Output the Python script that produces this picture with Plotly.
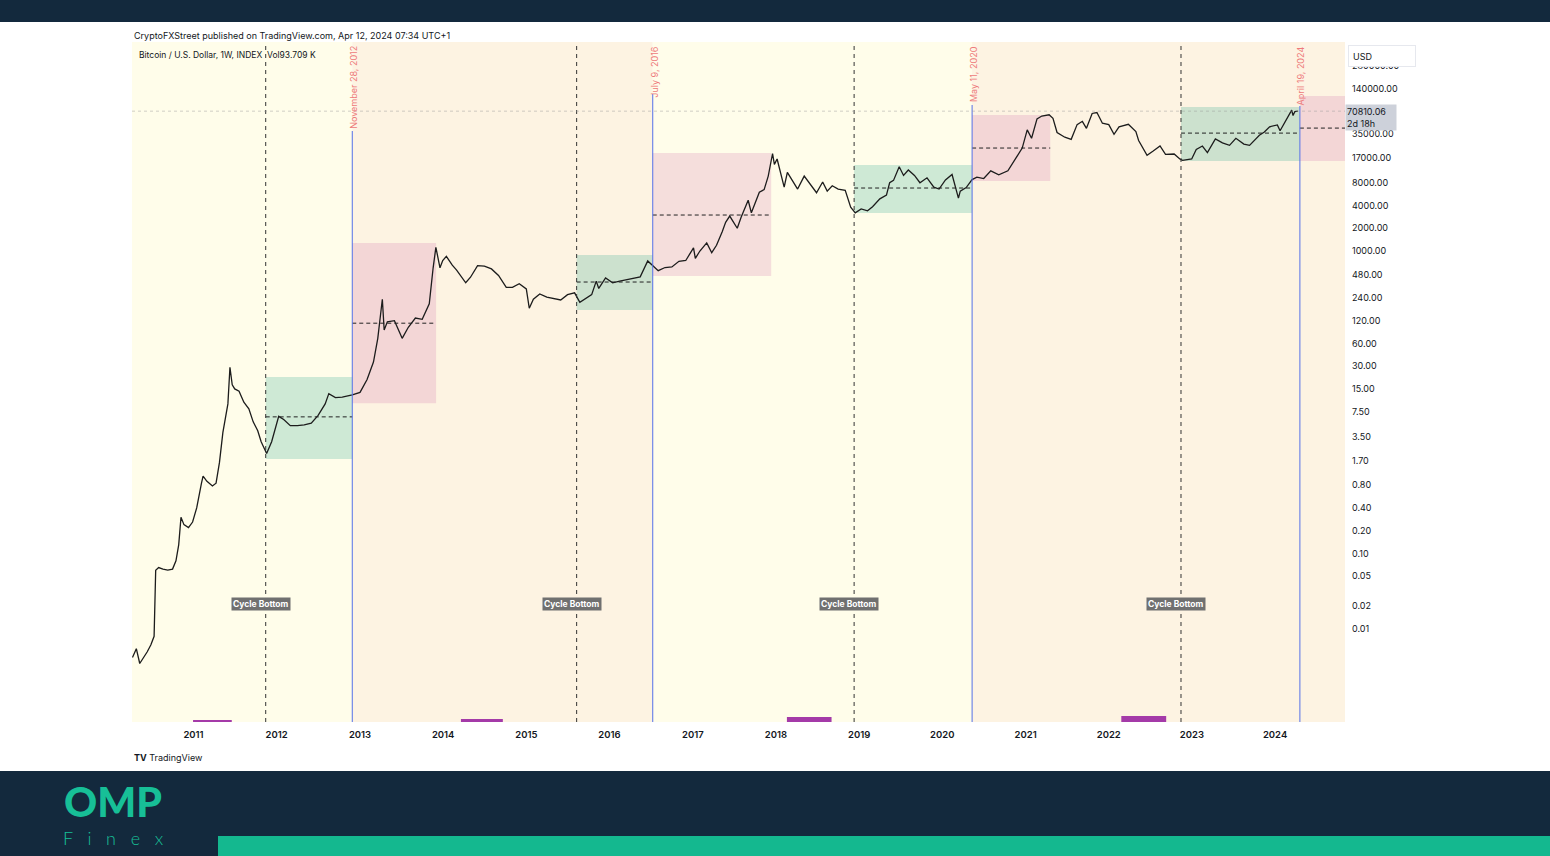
import math
import plotly.graph_objects as go

# weekly BTC/USD path (approximate)
dates = [
    "2010-04-08", "2010-04-25", "2010-05-10", "2010-05-28", "2010-06-12", "2010-06-28", "2010-07-12",
    "2010-07-19", "2010-08-01", "2010-08-20", "2010-09-10", "2010-10-01", "2010-10-16", "2010-10-28",
    "2010-11-07", "2010-11-20", "2010-12-10", "2010-12-28", "2011-01-15", "2011-02-05", "2011-02-12",
    "2011-03-01", "2011-03-25", "2011-04-10", "2011-04-25", "2011-05-10", "2011-05-25", "2011-06-01",
    "2011-06-10", "2011-06-20", "2011-07-01", "2011-07-20", "2011-08-10", "2011-09-01", "2011-09-20",
    "2011-10-10", "2011-10-25", "2011-11-18", "2011-12-10", "2012-01-10", "2012-02-01", "2012-03-01",
    "2012-04-01", "2012-05-01", "2012-06-01", "2012-07-01", "2012-08-01", "2012-08-17", "2012-09-15",
    "2012-10-15", "2012-11-28", "2013-01-01", "2013-02-01", "2013-03-01", "2013-03-20", "2013-04-09",
    "2013-04-17", "2013-05-01", "2013-06-01", "2013-07-05", "2013-08-01", "2013-09-01", "2013-10-01",
    "2013-11-01", "2013-11-18", "2013-11-30", "2013-12-18", "2013-12-30", "2014-01-15", "2014-02-10",
    "2014-03-01", "2014-04-10", "2014-05-01", "2014-06-01", "2014-07-01", "2014-08-01", "2014-09-01",
    "2014-10-05", "2014-11-01", "2014-12-01", "2015-01-01", "2015-01-14", "2015-02-01", "2015-03-01",
    "2015-04-01", "2015-05-01", "2015-06-01", "2015-07-01", "2015-08-01", "2015-08-24", "2015-09-15",
    "2015-10-15", "2015-11-04", "2015-11-15", "2015-12-15", "2016-01-15", "2016-02-15", "2016-03-15",
    "2016-04-15", "2016-05-15", "2016-06-17", "2016-07-09", "2016-08-02", "2016-09-01", "2016-10-01",
    "2016-11-01", "2016-12-01", "2017-01-04", "2017-01-12", "2017-02-01", "2017-03-03", "2017-03-25",
    "2017-04-15", "2017-05-10", "2017-05-25", "2017-06-12", "2017-07-15", "2017-08-01", "2017-09-01",
    "2017-09-15", "2017-10-01", "2017-10-20", "2017-11-10", "2017-11-28", "2017-12-17", "2017-12-25",
    "2018-01-06", "2018-01-20", "2018-02-06", "2018-02-20", "2018-03-10", "2018-04-06", "2018-05-05",
    "2018-06-01", "2018-06-28", "2018-07-25", "2018-08-14", "2018-09-05", "2018-10-01", "2018-11-01",
    "2018-11-25", "2018-12-15", "2019-01-10", "2019-02-07", "2019-03-01", "2019-04-02", "2019-05-01",
    "2019-05-15", "2019-06-01", "2019-06-26", "2019-07-15", "2019-08-05", "2019-09-01", "2019-09-25",
    "2019-10-26", "2019-11-25", "2019-12-18", "2020-01-15", "2020-02-13", "2020-03-12", "2020-03-20",
    "2020-04-15", "2020-05-11", "2020-06-01", "2020-07-01", "2020-08-01", "2020-09-05", "2020-10-15",
    "2020-11-15", "2020-12-17", "2021-01-08", "2021-01-27", "2021-02-20", "2021-03-13", "2021-04-14",
    "2021-05-01", "2021-05-19", "2021-06-22", "2021-07-20", "2021-08-15", "2021-09-07", "2021-09-25",
    "2021-10-20", "2021-11-10", "2021-12-04", "2022-01-01", "2022-01-24", "2022-02-15", "2022-03-28",
    "2022-04-30", "2022-05-12", "2022-06-18", "2022-07-15", "2022-08-14", "2022-09-07", "2022-10-15",
    "2022-11-09", "2022-11-21", "2022-12-31", "2023-01-20", "2023-02-16", "2023-03-10", "2023-04-14",
    "2023-05-15", "2023-06-15", "2023-07-13", "2023-08-17", "2023-09-11", "2023-10-24", "2023-11-15",
    "2023-12-08", "2024-01-11", "2024-01-23", "2024-02-15", "2024-03-05", "2024-03-14", "2024-03-20",
    "2024-03-28", "2024-04-10",
]
prices = [
    0.0042, 0.0055, 0.0035, 0.0042, 0.0050, 0.0062, 0.0080,
    0.060, 0.065, 0.062, 0.060, 0.062, 0.080, 0.13,
    0.30, 0.24, 0.22, 0.26, 0.40, 0.85, 1.05,
    0.90, 0.78, 0.85, 1.6, 4.0, 8.0, 9.5,
    29, 17, 15, 14, 10, 8.2, 5.5,
    4.2, 3.0, 2.1, 3.0, 6.5, 5.9, 4.9,
    4.9, 5.0, 5.3, 6.7, 9.5, 13, 11.5,
    11.7, 12.5, 13.5, 20, 34, 70, 230,
    90, 116, 120, 70, 98, 130, 125,
    200, 600, 1120, 600, 750, 850, 650,
    560, 380, 450, 640, 630, 580, 475,
    330, 330, 370, 315, 175, 230, 270,
    245, 235, 225, 265, 280, 210, 230,
    265, 400, 320, 440, 380, 400, 415,
    430, 455, 740, 650, 550, 605, 615,
    730, 750, 1100, 800, 1000, 1280, 950,
    1190, 1800, 2400, 2900, 2000, 2800, 4700,
    3200, 4400, 6000, 6500, 9800, 19500, 14000,
    16500, 11500, 7000, 11000, 9000, 6600, 9800,
    7500, 5900, 8200, 6200, 7300, 6600, 6350,
    3800, 3200, 3600, 3400, 3850, 4900, 5500,
    8000, 8600, 13000, 10000, 11800, 10000, 8000,
    9300, 7000, 6600, 8700, 10300, 5000, 6200,
    6900, 8800, 9500, 9100, 11500, 10200, 11500,
    16000, 23000, 40000, 31000, 56000, 61000, 63500,
    57000, 37000, 32000, 30000, 47000, 52000, 42000,
    66000, 68000, 49000, 47000, 35000, 44000, 47500,
    38000, 29000, 18500, 21000, 24500, 19000, 19200,
    16500, 15800, 16500, 22000, 24500, 20000, 30500,
    27000, 25000, 31000, 26000, 25000, 34000, 37500,
    44000, 46500, 39000, 52000, 67000, 73000, 62000,
    70000, 70810.06,
]

# halvings and cycle bottoms
halving_dates = ["2012-11-28", "2016-07-09", "2020-05-11", "2024-04-19"]
halving_labels = ["November 28, 2012", "July 9, 2016", "May 11, 2020", "April 19, 2024"]
bottom_dates = ["2011-11-14", "2015-08-10", "2018-12-10", "2022-11-14"]

# green (accumulation) and pink (post-halving) boxes
box_start = ["2011-11-14", "2012-11-28", "2015-08-10", "2016-07-09",
             "2018-12-10", "2020-05-11", "2022-11-14", "2024-04-19"]
box_end = ["2012-11-28", "2013-12-01", "2016-07-09", "2017-12-11",
           "2020-05-11", "2021-04-19", "2024-04-19", "2024-11-03"]
box_low = [1.77, 9.7, 166, 467, 3183, 8430, 15500, 15500]
box_high = [21.5, 1276, 885, 19770, 13720, 63000, 80300, 112000]
box_mid = [6.4, 111, 389, 2994, 6815, 23030, 36300, 42300]
box_kind = ["green", "pink", "green", "pink", "green", "pink", "green", "pink"]

# hidden purple labels peeking at the bottom
purple_start = ["2010-12-30", "2014-03-20", "2018-02-18", "2022-02-25"]
purple_end = ["2011-06-18", "2014-09-20", "2018-09-02", "2022-09-10"]

y_ticks = [0.01, 0.02, 0.05, 0.10, 0.20, 0.40, 0.80, 1.70, 3.50, 7.50, 15, 30, 60,
           120, 240, 480, 1000, 2000, 4000, 8000, 17000, 35000, 140000, 280000]
last_price = 70810.06

W, H = 1550, 856
L, R, T, B = 132, 1345, 42, 722
PW, PH = R - L, B - T


def px(x):
    return (x - L) / PW


def py(y):
    return (B - y) / PH


NAVY = "#13293d"
TEAL = "#17bf97"
FONT = "Inter, Roboto, sans-serif"

fig = go.Figure()

shapes = []
# background bands between halvings
band_edges = ["2010-01-01"] + halving_dates[:3] + ["2025-06-01"]
band_cols = ["#fffdea", "#fdf3e2", "#fffdea", "#fdf3e2"]
for i in range(4):
    shapes.append(dict(type="rect", xref="x", yref="paper", x0=band_edges[i], x1=band_edges[i + 1],
                       y0=0, y1=1, fillcolor=band_cols[i], line_width=0, layer="below"))

for s, e, lo, hi, mid, k in zip(box_start, box_end, box_low, box_high, box_mid, box_kind):
    col = "rgba(8,153,129,0.2)" if k == "green" else "rgba(195,70,155,0.17)"
    shapes.append(dict(type="rect", xref="x", yref="y", x0=s, x1=e, y0=lo, y1=hi,
                       fillcolor=col, line_width=0, layer="below"))
    shapes.append(dict(type="line", xref="x", yref="y", x0=s, x1=e, y0=mid, y1=mid,
                       line=dict(color="#222", width=1, dash="4px,3px")))

for d in bottom_dates:
    shapes.append(dict(type="line", xref="x", yref="paper", x0=d, x1=d, y0=0, y1=1,
                       line=dict(color="#333", width=1, dash="4px,4px")))

halving_tops = [py(131), py(94), py(105), py(106)]
for d, top in zip(halving_dates, halving_tops):
    shapes.append(dict(type="line", xref="x", yref="paper", x0=d, x1=d, y0=0, y1=top,
                       line=dict(color="#5470e8", width=1)))

# last price dotted line
shapes.append(dict(type="line", xref="paper", yref="y", x0=0, x1=1, y0=last_price, y1=last_price,
                   line=dict(color="rgba(150,150,150,0.45)", width=1, dash="dot")))

for s, e, h in zip(purple_start, purple_end, [2, 3, 5, 6]):
    shapes.append(dict(type="rect", xref="x", yref="paper", x0=s, x1=e, y0=0, y1=h / PH,
                       fillcolor="#a43aa8", line_width=0))

# page frame: navy bars and teal strip
shapes.append(dict(type="rect", xref="paper", yref="paper", x0=px(-5), x1=px(W + 5),
                   y0=py(22), y1=py(-5), fillcolor=NAVY, line_width=0))
shapes.append(dict(type="rect", xref="paper", yref="paper", x0=px(-5), x1=px(W + 5),
                   y0=py(H + 5), y1=py(771), fillcolor=NAVY, line_width=0))
shapes.append(dict(type="rect", xref="paper", yref="paper", x0=px(218), x1=px(W + 5),
                   y0=py(H + 5), y1=py(836), fillcolor="#14b88f", line_width=0))

fig.add_trace(go.Scatter(x=dates, y=prices, mode="lines",
                         line=dict(color="#1c1c1c", width=1.3), hoverinfo="skip"))

ann = []
ann.append(dict(text="CryptoFXStreet published on TradingView.com, Apr 12, 2024 07:34 UTC+1",
                xref="paper", yref="paper", x=px(132), y=py(35), xanchor="left", yanchor="middle",
                showarrow=False, font=dict(family=FONT, size=9, color="#131722")))
ann.append(dict(text="Bitcoin / U.S. Dollar, 1W, INDEX  Vol93.709 K",
                xref="paper", yref="paper", x=px(137), y=py(55), xanchor="left", yanchor="middle",
                showarrow=False, font=dict(family=FONT, size=8.5, color="#131722")))
for d, lab in zip(halving_dates, halving_labels):
    ann.append(dict(text=lab, xref="x", yref="paper", x=d, y=py(44), xanchor="center",
                    yanchor="top", textangle=-90, showarrow=False, xshift=1,
                    font=dict(family=FONT, size=9, color="#ee7a7a")))
for d in bottom_dates:
    ann.append(dict(text="<b>Cycle Bottom</b>", xref="x", yref="paper", x=d, y=py(604),
                    xshift=-5, yshift=-7, showarrow=False, bgcolor="#707070", borderpad=1,
                    font=dict(family=FONT, size=8.5, color="white")))
ann.append(dict(text="USD", xref="paper", yref="paper", x=px(1348), y=py(45), xanchor="left",
                yanchor="top", showarrow=False, bgcolor="white", bordercolor="#e6e8ee",
                borderwidth=1, borderpad=4, width=58, height=12, align="left",
                font=dict(family=FONT, size=9, color="#131722")))
ann.append(dict(text=f"{last_price:.2f}<br>2d 18h", xref="paper", yref="y", x=1,
                y=math.log10(last_price), xanchor="left", yanchor="top", yshift=7,
                showarrow=False, bgcolor="#cdd1da", borderpad=1, align="left", width=48,
                font=dict(family=FONT, size=9, color="#131722")))
ann.append(dict(text="<b>TV</b> TradingView", xref="paper", yref="paper", x=px(132), y=py(757),
                xanchor="left", yanchor="middle", showarrow=False,
                font=dict(family=FONT, size=9, color="#131722")))
# OMP Finex logo
ann.append(dict(text="OMP", xref="paper", yref="paper", x=px(113), y=py(801),
                xanchor="center", yanchor="middle", showarrow=False,
                font=dict(family="Lato, sans-serif", size=41, color=TEAL, weight=900)))
sp = "&nbsp;" * 3
ann.append(dict(text=sp.join("Finex"), xref="paper", yref="paper", x=px(61), y=py(838),
                xanchor="left", yanchor="middle", showarrow=False,
                font=dict(family="Lato, sans-serif", size=18, color=TEAL, weight=300)))

fig.update_layout(
    width=W, height=H,
    margin=dict(l=L, r=W - R, t=T, b=H - B),
    paper_bgcolor="white", plot_bgcolor="white",
    showlegend=False,
    shapes=shapes, annotations=ann,
    xaxis=dict(type="date", range=["2010-04-06", "2024-11-03"], showgrid=False, zeroline=False,
               dtick="M12", tick0="2011-01-01", tickformat="%Y", ticks="", showline=False,
               ticklabelstandoff=5,
               tickfont=dict(family=FONT, size=9.5, color="#131722", weight=600)),
    yaxis=dict(type="log", side="right", range=[-3.230, 5.765], showgrid=False, zeroline=False,
               tickvals=y_ticks, ticktext=[f"{v:.2f}" for v in y_ticks], ticks="",
               showline=False, ticklabelstandoff=6,
               tickfont=dict(family=FONT, size=9, color="#131722")),
)

fig.write_html("out.html", config={"displayModeBar": False},
               post_script="document.body.style.margin='0';")
